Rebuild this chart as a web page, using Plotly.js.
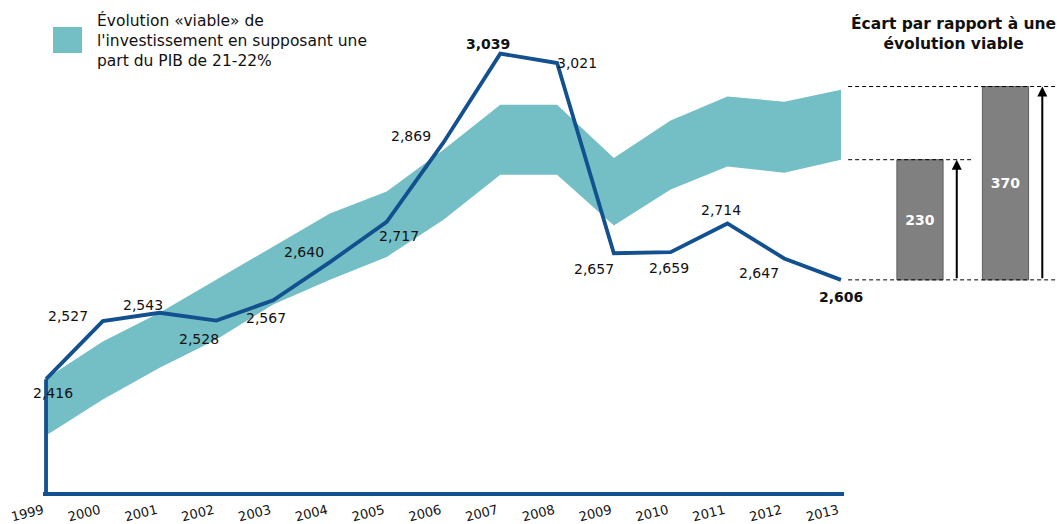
<!DOCTYPE html>
<html>
<head>
<meta charset="utf-8">
<script src="https://cdn.plot.ly/plotly-3.0.1.min.js"></script>
<style>html,body{margin:0;padding:0;background:#fff}#chart{width:1057px;height:524px}</style>
</head>
<body>
<div id="chart"></div>
<script>
// ---- data ----
const years = [1999,2000,2001,2002,2003,2004,2005,2006,2007,2008,2009,2010,2011,2012,2013];
const investment = [2416,2527,2543,2528,2567,2640,2717,2869,3039,3021,2657,2659,2714,2647,2606];
const bandUpper = [2417,2488,2543,2606,2670,2733,2775,2855,2941,2941,2839,2911,2957,2947,2970];
const bandLower = [2308,2377,2438,2492,2559,2606,2650,2721,2807,2807,2710,2779,2823,2811,2836];
const gapLabels = ['230','370'];
const gapValues = [230,370];
const legendText = "Évolution «viable» de<br>l'investissement en supposant une<br>part du PIB de 21-22%";
const panelTitle = "<b>Écart par rapport à une<br>évolution viable</b>";

// ---- styling / positions (not data) ----
const BLUE = '#12508f', TEAL = '#73bfc5', GREY = '#808080';
const FONT = 'DejaVu Sans, Verdana, sans-serif';
const labelShift = [[7,-14],[-35,5],[-17,8],[-17,-18],[-7,-18],[-26,10],[12,-14],[-33,6],[-12,10],[20,0],[-20,-16],[-2,-16],[-6,13],[-25,-15],[0,-17]];
const boldLabel = [false,false,false,false,false,false,false,false,true,false,false,false,false,false,true];
const Y0 = 2200;
const W = 1057, PH = 492;
const pxPerUnit = 0.5225;
const yTop = Y0 + PH / pxPerUnit;

const fmt = v => v.toLocaleString('en-US');
const last = investment[investment.length - 1];
const barX = gapValues.map((_, i) => i + 1);

const traces = [
  {x: years, y: bandLower, mode: 'lines', line: {width: 0, color: TEAL}, showlegend: false, hoverinfo: 'skip'},
  {x: years, y: bandUpper, mode: 'lines', line: {width: 0, color: TEAL}, fill: 'tonexty', fillcolor: TEAL, showlegend: false, hoverinfo: 'skip'},
  {x: years, y: investment, mode: 'lines', line: {color: BLUE, width: 3.8}, showlegend: false, cliponaxis: false},
  {type: 'bar', x: barX, y: gapValues, base: gapValues.map(() => last), xaxis: 'x2', yaxis: 'y',
   width: 0.54, marker: {color: GREY, line: {color: '#5e5e5e', width: 1}},
   text: gapLabels, textposition: 'inside', insidetextanchor: 'middle',
   textfont: {color: '#ffffff', family: FONT, size: 14, weight: 'bold'}, showlegend: false, hoverinfo: 'skip'}
];

const annotations = investment.map((v, i) => ({
  x: years[i], y: v, xref: 'x', yref: 'y', text: boldLabel[i] ? '<b>' + fmt(v) + '</b>' : fmt(v),
  showarrow: false, xanchor: 'center', yanchor: 'middle',
  xshift: labelShift[i][0], yshift: labelShift[i][1],
  font: {family: FONT, size: 14, color: '#111'}
}));

annotations.push({
  x: 95 / W, y: 1 - 9 / PH, xref: 'paper', yref: 'paper', xanchor: 'left', yanchor: 'top', align: 'left',
  text: legendText, showarrow: false, font: {family: FONT, size: 15.5, color: '#111'}
});
annotations.push({
  x: 953.5 / W, y: 1 - 12 / PH, xref: 'paper', yref: 'paper', xanchor: 'center', yanchor: 'top', align: 'center',
  text: panelTitle, showarrow: false, font: {family: FONT, size: 15.5, color: '#111'}
});
gapValues.forEach((g, i) => {
  annotations.push({
    x: barX[i] + 0.43, y: last + g, ax: barX[i] + 0.43, ay: last,
    xref: 'x2', yref: 'y', axref: 'x2', ayref: 'y',
    showarrow: true, arrowhead: 2, arrowsize: 1, arrowwidth: 2, arrowcolor: '#000', standoff: 0, startstandoff: 0, text: ''
  });
});

const shapes = [
  {type: 'line', xref: 'x', yref: 'y', x0: years[0], x1: years[0], y0: Y0, y1: investment[0], line: {color: BLUE, width: 3.8}},
  {type: 'rect', xref: 'paper', yref: 'paper', x0: 53 / W, x1: 82 / W, y0: 1 - 53 / PH, y1: 1 - 27 / PH, fillcolor: TEAL, line: {width: 0}},
  {type: 'line', xref: 'x2 domain', yref: 'y', x0: 0.01, x1: 1, y0: last, y1: last, line: {color: '#000', width: 1, dash: '4px,3px'}},
  {type: 'line', xref: 'x2', yref: 'y', x0: 0.16, x1: barX[0] + 0.6, y0: last + gapValues[0], y1: last + gapValues[0], line: {color: '#000', width: 1, dash: '4px,3px'}},
  {type: 'line', xref: 'x2 domain', yref: 'y', x0: 0.01, x1: 1, y0: last + gapValues[1], y1: last + gapValues[1], line: {color: '#000', width: 1, dash: '4px,3px'}}
];

const layout = {
  width: W, height: 524,
  margin: {l: 0, r: 0, t: 0, b: 524 - PH, pad: 0},
  paper_bgcolor: '#fff', plot_bgcolor: 'rgba(0,0,0,0)',
  font: {family: FONT, color: '#111'},
  showlegend: false,
  xaxis: {
    domain: [43.2 / W, 843.8 / W], range: [years[0] - 0.05, years[years.length - 1] + 0.05],
    tickvals: years, ticktext: years.map(String), tickangle: -14, ticks: '', showgrid: false, zeroline: false,
    showline: true, linecolor: BLUE, linewidth: 4, tickfont: {family: FONT, size: 13, color: '#111'},
    ticklabelstandoff: 2, ticklabelshift: -3,
    automargin: false, fixedrange: true
  },
  yaxis: {
    domain: [0, 1], range: [Y0, yTop], showgrid: false, zeroline: false, showticklabels: false, ticks: '',
    showline: false, automargin: false, fixedrange: true
  },
  xaxis2: {
    domain: [846 / W, 1], range: [0.135, 2.602], anchor: 'y', showgrid: false, zeroline: false,
    showticklabels: false, ticks: '', showline: false, automargin: false, fixedrange: true
  },
  bargap: 0,
  annotations: annotations,
  shapes: shapes
};

Plotly.newPlot('chart', traces, layout, {displayModeBar: false, staticPlot: true});
</script>
</body>
</html>
